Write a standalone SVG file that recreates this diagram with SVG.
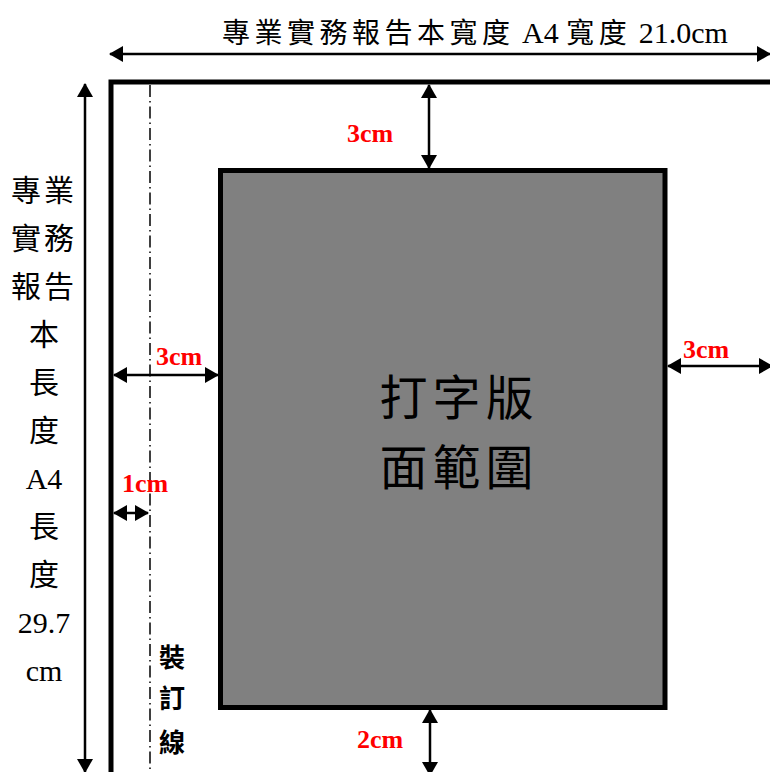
<svg xmlns="http://www.w3.org/2000/svg" width="770" height="772" viewBox="0 0 770 772">
<style>
.t{font-family:"Liberation Serif","Noto Sans CJK TC",serif;fill:#000}
.r{font-family:"Liberation Serif","Noto Sans CJK TC",serif;font-weight:bold;fill:#ff0000;font-size:26px}
.dim{stroke:#000;stroke-width:2.5;fill:none;marker-start:url(#ah);marker-end:url(#ah)}
.cj{letter-spacing:4.5px;font-size:28px}
</style>
<defs>
<marker id="ah" markerUnits="userSpaceOnUse" markerWidth="14" markerHeight="16" refX="13" refY="8" orient="auto-start-reverse" viewBox="0 0 14 16">
<path d="M0,0 L14,8 L0,16 z" fill="#000"/>
</marker>
</defs>
<rect width="770" height="772" fill="#fff"/>
<g id="page">
<path d="M111,780 V82 H780" fill="none" stroke="#000" stroke-width="5"/>
</g>
<g id="binding-line">
<line x1="150" y1="85" x2="150" y2="772" stroke="#000" stroke-width="1.5" stroke-dasharray="12,4,1.5,4"/>
<text class="t" font-size="26" font-weight="bold" text-anchor="middle" x="172" y="667">裝</text>
<text class="t" font-size="26" font-weight="bold" text-anchor="middle" x="172" y="708">訂</text>
<text class="t" font-size="26" font-weight="bold" text-anchor="middle" x="172" y="752">線</text>
</g>
<g id="type-area">
<rect x="220.5" y="170.5" width="444.5" height="537" fill="#808080" stroke="#000" stroke-width="5"/>
<text class="t" font-size="48" letter-spacing="5" text-anchor="middle" x="459" y="415">打字版</text>
<text class="t" font-size="48" letter-spacing="5" text-anchor="middle" x="459" y="485">面範圍</text>
</g>
<g id="connectors">
<line class="dim" x1="110" y1="54" x2="770" y2="54"/>
<line class="dim" x1="85" y1="84" x2="85" y2="772"/>
<line class="dim" x1="429" y1="85" x2="429" y2="168"/>
<line class="dim" x1="114" y1="375" x2="218" y2="375"/>
<line class="dim" x1="114" y1="513" x2="148" y2="513"/>
<line class="dim" x1="668" y1="366" x2="772" y2="366"/>
<line class="dim" x1="430" y1="710" x2="430" y2="775"/>
</g>
<g id="width-label">
<text class="t" font-size="30" x="222" y="43"><tspan class="cj">專業實務報告本寬度</tspan> A4 <tspan class="cj">寬度</tspan> 21.0cm</text>
</g>
<g id="height-label" class="t" font-size="30" text-anchor="middle">
<text x="44" y="201" letter-spacing="3">專業</text>
<text x="44" y="249" letter-spacing="3">實務</text>
<text x="44" y="297" letter-spacing="3">報告</text>
<text x="44" y="345">本</text>
<text x="44" y="393">長</text>
<text x="44" y="441">度</text>
<text x="44" y="489">A4</text>
<text x="44" y="537">長</text>
<text x="44" y="585">度</text>
<text x="44" y="633">29.7</text>
<text x="44" y="681">cm</text>
</g>
<g id="labels">
<text class="r" x="347" y="142">3cm</text>
<text class="r" x="156" y="365">3cm</text>
<text class="r" x="122" y="492">1cm</text>
<text class="r" x="683" y="358">3cm</text>
<text class="r" x="357" y="748">2cm</text>
</g>
</svg>
